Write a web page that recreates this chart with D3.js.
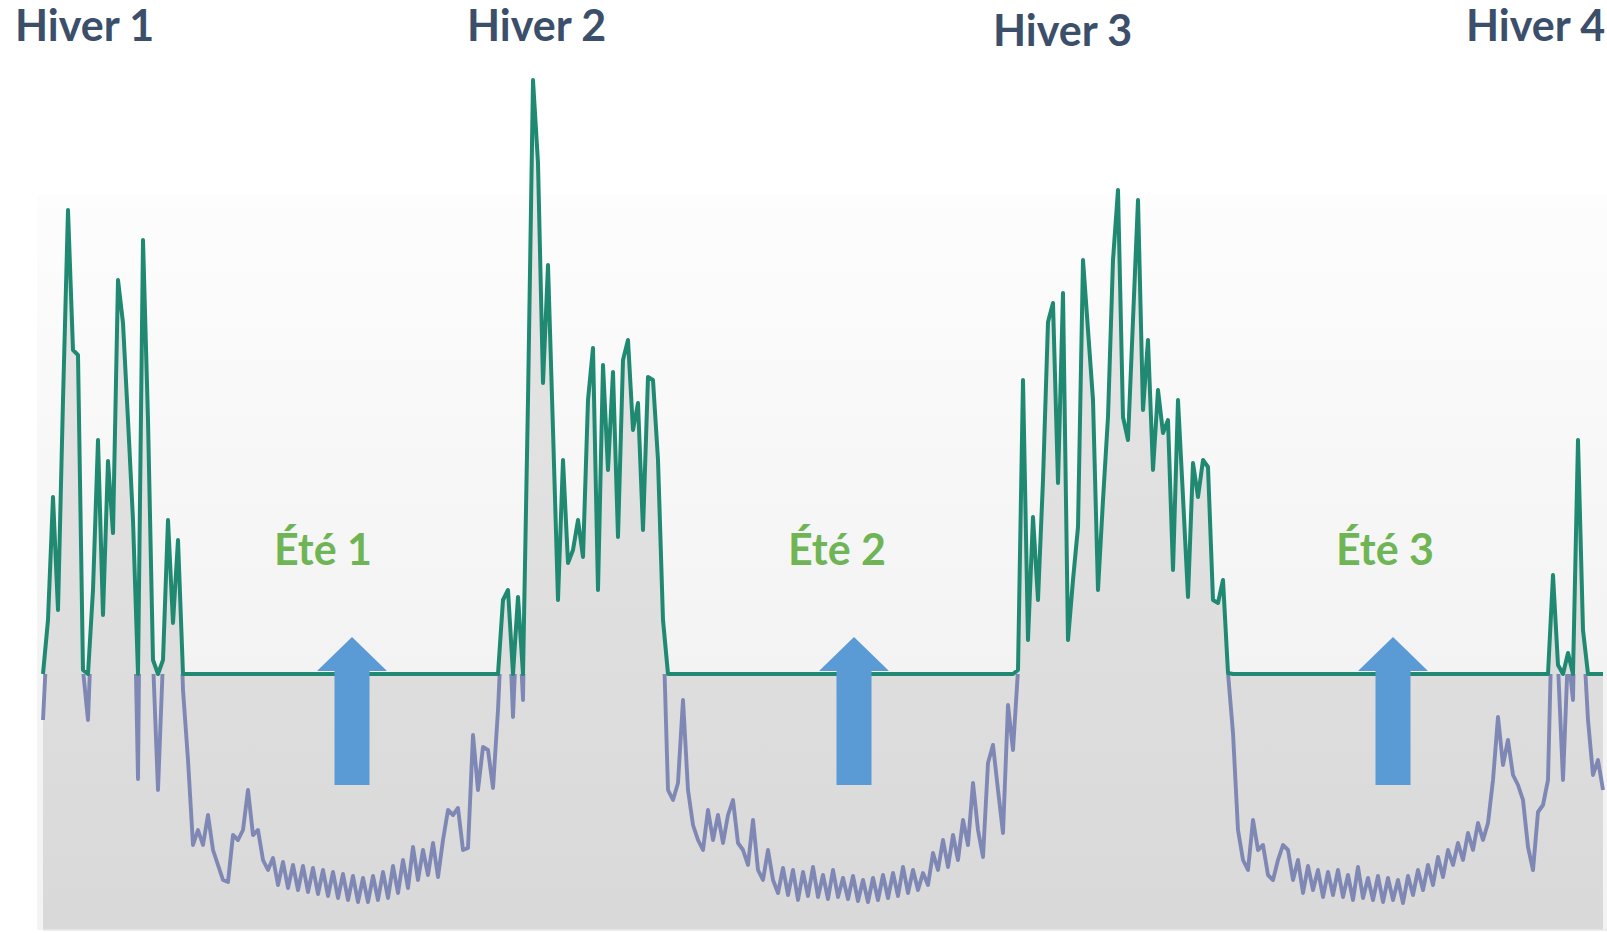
<!DOCTYPE html>
<html>
<head>
<meta charset="utf-8">
<script src="https://cdn.jsdelivr.net/npm/d3@7"></script>
<style>
  body { margin: 0; background: #ffffff; }
  svg { display: block; }
</style>
</head>
<body>
<svg id="chart" width="1607" height="933"></svg>
<script>
// ---- Data (demand level; one sample every half week) ----
const values = [
  210, 310, 433, 320, 530, 720, 580, 575, 260, 210,
  340, 490, 315, 469, 397, 650, 607, 510, 410, 151,
  690, 510, 270, 140, 270, 410, 307, 390, 240, 170,
  85, 100, 85, 115, 80, 65, 50, 48, 95, 90,
  100, 140, 95, 100, 70, 60, 72, 45, 68, 42,
  65, 40, 64, 38, 62, 36, 60, 34, 58, 32,
  56, 30, 54, 28, 52, 28, 54, 30, 58, 32,
  64, 37, 70, 42, 83, 50, 80, 55, 87, 53,
  90, 120, 115, 122, 80, 82, 195, 140, 183, 180,
  142, 220, 330, 340, 213, 333, 230, 530, 850, 767,
  547, 665, 500, 330, 470, 367, 380, 410, 373, 530,
  582, 340, 565, 460, 558, 393, 570, 590, 500, 527,
  400, 553, 550, 470, 310, 140, 130, 147, 230, 140,
  105, 90, 80, 120, 90, 115, 87, 115, 130, 87,
  80, 65, 110, 60, 50, 80, 50, 37, 62, 35,
  60, 30, 58, 34, 63, 33, 55, 31, 60, 33,
  52, 31, 54, 29, 50, 28, 52, 30, 55, 32,
  57, 34, 63, 37, 60, 40, 57, 45, 77, 60,
  90, 63, 95, 70, 110, 85, 147, 100, 73, 167,
  185, 140, 97, 225, 180, 260, 550, 290, 413, 330,
  450, 608, 627, 447, 637, 290, 350, 403, 670, 600,
  530, 340, 430, 513, 670, 740, 513, 490, 610, 730,
  520, 590, 460, 540, 497, 510, 360, 530, 433, 333,
  467, 433, 470, 463, 330, 327, 350, 257, 197, 100,
  70, 60, 110, 80, 85, 55, 50, 70, 85, 80,
  50, 70, 37, 64, 40, 60, 33, 58, 35, 60,
  33, 55, 30, 63, 32, 52, 30, 54, 28, 52,
  30, 50, 27, 54, 35, 60, 40, 65, 45, 73,
  53, 80, 65, 87, 70, 97, 80, 107, 90, 107,
  150, 213, 165, 190, 155, 145, 130, 83, 60, 118,
  125, 150, 355, 265, 150, 277, 230, 490, 300, 210,
  155, 170, 140
];
const threshold = 256;             // capacity level (horizontal green line)
const yMax = 858;

const winterLabels = ["Hiver 1", "Hiver 2", "Hiver 3", "Hiver 4"];
const summerLabels = ["Été 1", "Été 2", "Été 3"];
// summer arrows: centre (sample index), tip / head base / tail levels
const arrowCenters = [61.8, 162.2, 270];
const arrowTip = 293, arrowHeadBase = 259, arrowTail = 145;

// ---- Layout (pixels) ----
const layout = {
  plotLeft: 43, plotRight: 1603, plotTop: 72, plotBottom: 930,
  bgTop: 195,
  winterPos: [[15, 41], [467, 41], [993, 46], [1466, 41]],
  summerPos: [[274, 565], [788, 565], [1336, 565]],
  headHalf: 35, shaftHalf: 17.5
};

const svg = d3.select("#chart");
const defs = svg.append("defs");

const x = d3.scaleLinear().domain([0, values.length - 1]).range([layout.plotLeft, layout.plotRight]);
const y = d3.scaleLinear().domain([0, yMax]).range([layout.plotBottom, layout.plotTop]);

// background gradient of plot area
const bg = defs.append("linearGradient").attr("id", "bgGrad")
  .attr("gradientUnits", "userSpaceOnUse")
  .attr("x1", 0).attr("x2", 0).attr("y1", layout.bgTop).attr("y2", y(threshold));
bg.append("stop").attr("offset", 0).attr("stop-color", "#fdfdfd");
bg.append("stop").attr("offset", 1).attr("stop-color", "#f3f3f3");

const ag = defs.append("linearGradient").attr("id", "areaGrad")
  .attr("gradientUnits", "userSpaceOnUse")
  .attr("x1", 0).attr("x2", 0).attr("y1", y(yMax)).attr("y2", layout.plotBottom);
ag.append("stop").attr("offset", 0).attr("stop-color", "#e8e8e8");
ag.append("stop").attr("offset", 1).attr("stop-color", "#d9d9d9");

svg.append("rect")
  .attr("x", layout.plotLeft - 6).attr("y", layout.bgTop)
  .attr("width", 1607 - layout.plotLeft + 6).attr("height", layout.plotBottom - layout.bgTop)
  .attr("fill", "url(#bgGrad)");

// clip for the line below the threshold
defs.append("clipPath").attr("id", "below")
  .append("rect")
  .attr("x", 0).attr("y", y(threshold))
  .attr("width", 1607).attr("height", layout.plotBottom - y(threshold) + 5);

// filled area (up to the max of demand and threshold)
const area = d3.area()
  .x((d, i) => x(i))
  .y0(y(0))
  .y1(d => y(Math.max(d, threshold)));

svg.append("path")
  .datum(values)
  .attr("d", area)
  .attr("fill", "url(#areaGrad)");

// purple demand line, visible below threshold
const line = d3.line().x((d, i) => x(i)).y(d => y(d));
svg.append("path")
  .datum(values)
  .attr("d", line)
  .attr("clip-path", "url(#below)")
  .attr("fill", "none")
  .attr("stroke", "#7f88b4")
  .attr("stroke-width", 3.9)
  .attr("stroke-linejoin", "round");

// green line = max(demand, threshold)
const lineTop = d3.line().x((d, i) => x(i)).y(d => y(Math.max(d, threshold)));
svg.append("path")
  .datum(values)
  .attr("d", lineTop)
  .attr("fill", "none")
  .attr("stroke", "#1f8a71")
  .attr("stroke-width", 4)
  .attr("stroke-linejoin", "round");

// bottom edge
svg.append("line")
  .attr("x1", layout.plotLeft).attr("x2", 1607)
  .attr("y1", layout.plotBottom).attr("y2", layout.plotBottom)
  .attr("stroke", "#e9e9e9").attr("stroke-width", 1.5);

// arrows
arrowCenters.forEach(c => {
  const cx = x(c);
  const pts = [
    [cx, y(arrowTip)],
    [cx + layout.headHalf, y(arrowHeadBase)],
    [cx + layout.shaftHalf, y(arrowHeadBase)],
    [cx + layout.shaftHalf, y(arrowTail)],
    [cx - layout.shaftHalf, y(arrowTail)],
    [cx - layout.shaftHalf, y(arrowHeadBase)],
    [cx - layout.headHalf, y(arrowHeadBase)]
  ];
  svg.append("polygon")
    .attr("points", pts.map(p => p.join(",")).join(" "))
    .attr("fill", "#5b9bd5");
});

// labels
svg.selectAll("text.winter")
  .data(winterLabels)
  .join("text")
  .attr("class", "winter")
  .attr("x", (d, i) => layout.winterPos[i][0])
  .attr("y", (d, i) => layout.winterPos[i][1])
  .attr("font-family", "Lato, 'Open Sans', sans-serif")
  .attr("font-weight", 700)
  .attr("font-size", 43)
  .attr("fill", "#3b4f6b")
  .text(d => d);

svg.selectAll("text.summer")
  .data(summerLabels)
  .join("text")
  .attr("class", "summer")
  .attr("x", (d, i) => layout.summerPos[i][0])
  .attr("y", (d, i) => layout.summerPos[i][1])
  .attr("font-family", "Lato, 'Open Sans', sans-serif")
  .attr("font-weight", 700)
  .attr("font-size", 43)
  .attr("fill", "#6fb556")
  .text(d => d);
</script>
</body>
</html>
